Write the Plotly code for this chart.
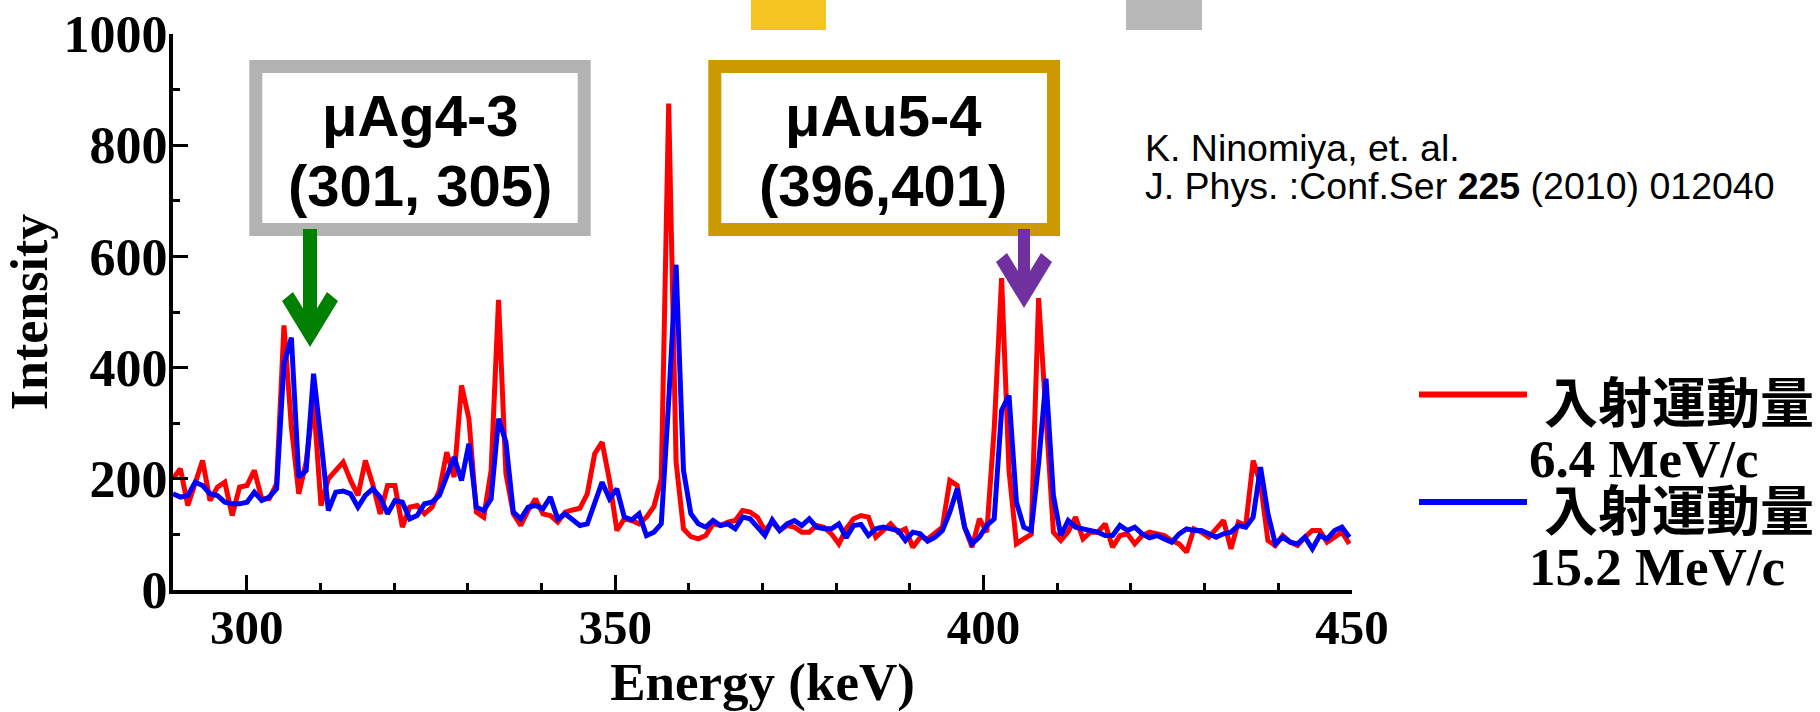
import plotly.graph_objects as go

# ---------------- data ----------------
start_kev = 290.0
step_kev = 1.004
red_6_4 = [200, 218, 152, 191, 233, 161, 185, 194, 134, 185,
           188, 215, 164, 164, 191, 476, 293, 173, 230, 340,
           152, 200, 215, 230, 197, 170, 233, 190, 137, 188,
           188, 113, 149, 152, 137, 149, 179, 248, 203, 368,
           308, 140, 131, 215, 522, 209, 137, 116, 143, 164,
           137, 134, 122, 140, 144, 147, 173, 245, 266, 197,
           107, 128, 125, 119, 131, 150, 200, 875, 230, 110,
           96, 92, 98, 119, 116, 122, 125, 143, 140, 131,
           107, 122, 107, 116, 113, 104, 104, 116, 113, 101,
           83, 110, 128, 134, 131, 95, 107, 119, 104, 110,
           77, 95, 92, 104, 113, 197, 188, 113, 77, 128,
           104, 290, 561, 215, 83, 92, 100, 525, 330, 104,
           89, 105, 131, 92, 104, 104, 119, 77, 98, 101,
           83, 98, 104, 100, 98, 89, 83, 68, 110, 104,
           95, 110, 125, 74, 122, 116, 233, 191, 89, 80,
           98, 86, 80, 95, 107, 107, 86, 95, 104, 83]
blue_15_2 = [173, 167, 170, 194, 188, 173, 170, 158, 155, 155,
             158, 176, 161, 167, 182, 407, 454, 203, 215, 389,
             270, 143, 176, 178, 173, 149, 170, 182, 167, 137,
             161, 158, 128, 134, 155, 158, 170, 205, 239, 197,
             263, 149, 143, 164, 308, 266, 140, 128, 149, 152,
             146, 167, 128, 137, 125, 116, 119, 155, 194, 164,
             182, 131, 126, 137, 98, 104, 119, 340, 585, 215,
             137, 119, 113, 125, 116, 119, 110, 131, 128, 113,
             98, 126, 107, 119, 125, 116, 128, 113, 110, 110,
             119, 94, 116, 118, 98, 110, 113, 110, 107, 89,
             104, 101, 88, 95, 107, 140, 182, 113, 83, 95,
             116, 128, 323, 350, 158, 113, 107, 227, 380, 170,
             98, 125, 113, 110, 107, 104, 98, 98, 116, 107,
             113, 101, 94, 98, 92, 86, 101, 110, 107, 107,
             101, 95, 101, 104, 116, 113, 131, 221, 137, 83,
             95, 86, 83, 95, 74, 98, 92, 107, 113, 95]
energy_kev = [start_kev + step_kev * i for i in range(len(red_6_4))]

series_names = ["入射運動量 6.4 MeV/c", "入射運動量 15.2 MeV/c"]
legend_cjk = "入射運動量"
legend_momenta = ["6.4 MeV/c", "15.2 MeV/c"]
box_labels = [("μAg4-3", "(301, 305)"), ("μAu5-4", "(396,401)")]
citation = ["K. Ninomiya, et. al.", "J. Phys. :Conf.Ser <b>225</b> (2010) 012040"]
x_ticks = [300, 350, 400, 450]
y_ticks = [0, 200, 400, 600, 800, 1000]

# ---------------- layout helpers (pixel -> paper) ----------------
W, H = 1820, 712
PL, PT, PW, PH = 173, 34, 1179, 556


def px_x(px):
    return (px - PL) / PW


def px_y(py):
    return (PT + PH - py) / PH


SERIF = "Liberation Serif, Times New Roman, serif"
SANS = "Liberation Sans, Arial, sans-serif"
CJK = "Noto Sans CJK JP, Noto Sans CJK SC, sans-serif"

fig = go.Figure()
fig.add_trace(go.Scatter(x=energy_kev, y=red_6_4, mode="lines", name=series_names[0],
                         line=dict(color="#FF0000", width=5), showlegend=False))
fig.add_trace(go.Scatter(x=energy_kev, y=blue_15_2, mode="lines", name=series_names[1],
                         line=dict(color="#0000FF", width=5), showlegend=False))

axis_common = dict(
    showline=True, linecolor="black", linewidth=4, mirror=False,
    showgrid=False, zeroline=False,
    ticks="inside", ticklen=15, tickwidth=3, tickcolor="black",
    automargin=False,
)

fig.update_xaxes(range=[290, 450], tickmode="array", tickvals=x_ticks,
                 ticktext=[str(v) for v in x_ticks], ticklabelstandoff=-9,
                 tickfont=dict(family=SERIF, size=49, color="black", weight="bold"),
                 minor=dict(dtick=10, tick0=290, ticks="inside", ticklen=7, tickwidth=3,
                            tickcolor="black", showgrid=False),
                 title=dict(text="Energy (keV)", standoff=31,
                            font=dict(family=SERIF, size=53, color="black", weight="bold")),
                 **axis_common)
fig.update_yaxes(range=[0, 1000], tickmode="array", tickvals=y_ticks,
                 ticktext=[str(v) for v in y_ticks], ticklabelstandoff=-9,
                 tickfont=dict(family=SERIF, size=52, color="black", weight="bold"),
                 minor=dict(dtick=100, tick0=0, ticks="inside", ticklen=7, tickwidth=3,
                            tickcolor="black", showgrid=False),
                 title=dict(text="Intensity", standoff=0,
                            font=dict(family=SERIF, size=52, color="black", weight="bold")),
                 **axis_common)

shapes = []
# decorative colour blocks at the top edge
shapes.append(dict(type="rect", xref="paper", yref="paper", x0=px_x(751), x1=px_x(826),
                   y0=px_y(30), y1=px_y(0), fillcolor="#F4C520", line=dict(width=0)))
shapes.append(dict(type="rect", xref="paper", yref="paper", x0=px_x(1126), x1=px_x(1202),
                   y0=px_y(30), y1=px_y(0), fillcolor="#B7B7B7", line=dict(width=0)))
# label boxes
shapes.append(dict(type="rect", xref="paper", yref="paper", x0=px_x(255.8), x1=px_x(584.2),
                   y0=px_y(229.5), y1=px_y(66.5), fillcolor="white",
                   line=dict(color="#B3B3B3", width=13)))
shapes.append(dict(type="rect", xref="paper", yref="paper", x0=px_x(714.8), x1=px_x(1053.5),
                   y0=px_y(229.5), y1=px_y(66.5), fillcolor="white",
                   line=dict(color="#CC9900", width=13)))


def arrow(tip_px, tip_py, top_py, color, half=7):
    h = tip_py - top_py
    common = dict(type="path", xref="paper", yref="paper", xsizemode="pixel", ysizemode="pixel",
                  xanchor=px_x(tip_px), yanchor=px_y(tip_py), fillcolor=color, line=dict(width=0))
    shaft = dict(common, path=f"M {-half},18 L {half},18 L {half},{h} L {-half},{h} Z")
    head = dict(common, path="M 0,0 L -28,46 L -17,55 L 0,27 L 17,55 L 28,46 Z")
    return [shaft, head]


shapes += arrow(310, 347, 229, "#008000", half=7)
shapes += arrow(1024, 308, 229, "#7030A0", half=6)

# legend line samples
shapes.append(dict(type="line", xref="paper", yref="paper", x0=px_x(1419), x1=px_x(1527),
                   y0=px_y(394.5), y1=px_y(394.5), line=dict(color="#FF0000", width=6)))
shapes.append(dict(type="line", xref="paper", yref="paper", x0=px_x(1419), x1=px_x(1527),
                   y0=px_y(502), y1=px_y(502), line=dict(color="#0000FF", width=6)))

ann = []
box_font = dict(family=SANS, size=58, color="black", weight="bold")
for (l1, l2), cx in zip(box_labels, [420, 883]):
    ann.append(dict(text=l1, x=px_x(cx), y=px_y(116), xref="paper", yref="paper",
                    showarrow=False, xanchor="center", yanchor="middle", font=box_font))
    ann.append(dict(text=l2, x=px_x(cx), y=px_y(185), xref="paper", yref="paper",
                    showarrow=False, xanchor="center", yanchor="middle", font=box_font))

cit_font = dict(family=SANS, size=37.5, color="black")
for line, cy in zip(citation, [148, 186]):
    ann.append(dict(text=line, x=px_x(1143), y=px_y(cy), xref="paper", yref="paper",
                    showarrow=False, xanchor="left", yanchor="middle", font=cit_font))

# legend text: one block, line pitch set by the base font size (1.3 em)
cjk_span = ('<span style="font-size:60px">\u00a0</span>'
            f'<span style="font-family:{CJK};font-size:54px;font-weight:bold">{legend_cjk}</span>')
lat_span = '<span style="font-size:53px;font-weight:bold">{}</span>'
legend_text = "<br>".join([cjk_span, lat_span.format(legend_momenta[0]),
                           cjk_span, lat_span.format(legend_momenta[1])])
ann.append(dict(text=legend_text, x=px_x(1527), y=px_y(478), xref="paper", yref="paper",
                showarrow=False, xanchor="left", yanchor="middle", align="left",
                font=dict(family=SERIF, size=41.5, color="black")))

fig.update_layout(
    width=W, height=H,
    margin=dict(l=PL, r=W - PL - PW, t=PT, b=H - PT - PH, pad=0),
    paper_bgcolor="white", plot_bgcolor="white",
    showlegend=False,
    font=dict(family=SERIF, color="black"),
    shapes=shapes, annotations=ann,
)

fig.write_html("out.html")
